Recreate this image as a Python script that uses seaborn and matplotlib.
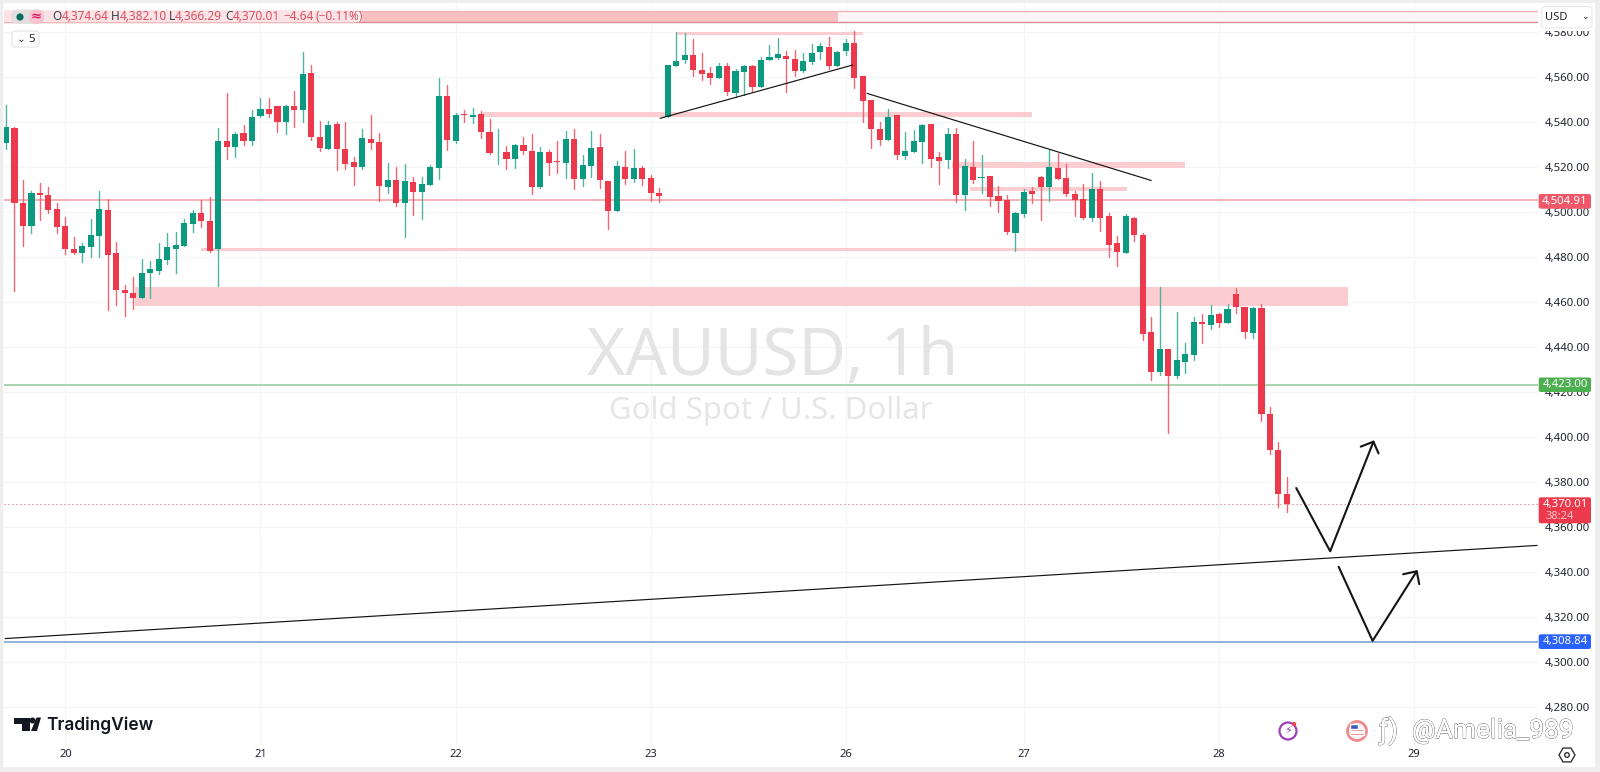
import numpy as np
import pandas as pd
import matplotlib
matplotlib.use("Agg")
import matplotlib.pyplot as plt
from matplotlib.patches import Rectangle, FancyBboxPatch, Circle, Polygon
import matplotlib.patheffects as pe
import seaborn as sns

highs = [4547.3,4537.7,4514.0,4509.3,4512.5,4511.0,4503.6,4497.7,4488.5,4485.9,
4496.5,4509.0,4505.4,4486.6,4467.3,4470.7,4479.0,4478.1,4485.9,4490.3,
4491.0,4496.8,4500.7,4505.1,4506.3,4537.0,4552.5,4535.5,4538.3,4545.1,
4550.3,4550.3,4546.9,4547.2,4553.4,4570.9,4565.0,4540.1,4540.1,4539.9,
4539.8,4524.1,4536.5,4542.9,4535.0,4521.4,4519.6,4521.0,4515.2,4515.2,
4520.5,4559.2,4556.2,4543.6,4545.1,4545.8,4544.8,4541.1,4536.5,4529.2,
4530.0,4533.0,4534.3,4528.8,4527.3,4531.3,4535.9,4536.7,4525.1,4535.9,
4534.4,4513.7,4522.3,4526.9,4527.6,4520.2,4516.2,4510.6,4565.2,4579.9,
4579.5,4576.5,4570.3,4564.4,4565.8,4565.8,4563.2,4565.0,4565.0,4568.8,
4573.8,4577.2,4571.5,4571.8,4570.6,4574.4,4574.7,4577.4,4571.2,4576.8,
4580.4,4560.2,4549.5,4539.8,4545.4,4543.0,4535.3,4536.2,4538.9,4538.7,
4526.4,4537.0,4537.0,4523.3,4531.3,4525.1,4515.6,4511.3,4507.3,4499.8,
4510.0,4510.7,4515.9,4527.3,4525.8,4521.1,4509.2,4512.2,4517.2,4513.7,
4499.2,4489.1,4498.7,4497.4,4490.3,4453.3,4466.3,4438.9,4455.2,4441.7,
4453.3,4454.4,4458.4,4454.7,4458.9,4465.9,4457.7,4457.7,4458.9,4413.0,
4397.7,4382.1]
lows = [4527.8,4464.8,4484.7,4490.3,4496.2,4499.2,4490.6,4481.1,4481.1,4477.7,
4479.9,4479.6,4456.2,4458.4,4453.6,4456.5,4461.7,4461.7,4472.2,4476.7,
4472.8,4484.7,4490.9,4493.3,4482.1,4466.9,4523.2,4524.4,4529.7,4529.7,
4542.1,4541.9,4535.2,4534.4,4537.7,4539.8,4531.8,4527.0,4527.6,4518.4,
4518.9,4511.9,4518.7,4527.9,4504.8,4508.1,4502.6,4488.8,4498.3,4496.8,
4511.9,4514.3,4527.3,4530.3,4539.9,4539.5,4532.7,4525.7,4521.1,4518.9,
4519.3,4525.5,4507.6,4510.4,4516.2,4517.2,4515.0,4510.1,4511.5,4515.5,
4510.3,4492.1,4500.2,4512.2,4513.2,4511.9,4504.5,4504.2,4541.8,4564.8,
4566.1,4560.2,4558.4,4556.7,4559.3,4551.9,4550.7,4551.9,4553.4,4555.3,
4567.2,4567.9,4553.2,4560.2,4562.1,4565.5,4567.9,4563.3,4564.8,4569.5,
4554.9,4539.8,4528.2,4529.7,4531.8,4523.5,4523.2,4526.6,4521.4,4519.9,
4512.2,4519.5,4504.2,4500.6,4512.8,4508.1,4502.6,4499.8,4490.0,4482.6,
4497.4,4503.6,4496.2,4504.5,4514.3,4507.0,4498.0,4496.6,4495.9,4491.5,
4479.8,4475.8,4481.5,4486.9,4442.9,4425.1,4427.5,4401.7,4425.9,4428.1,
4434.0,4441.4,4447.6,4448.8,4450.3,4455.0,4443.6,4443.8,4407.0,4392.2,
4368.5,4366.3]
opens = [4530.6,4537.1,4503.6,4493.6,4508.4,4507.5,4501.3,4493.6,4483.3,4481.6,
4484.2,4489.3,4500.5,4481.4,4465.1,4463.8,4461.7,4472.5,4473.4,4478.4,
4483.3,4484.7,4494.4,4499.2,4495.9,4483.5,4531.2,4528.8,4534.7,4531.3,
4542.3,4545.7,4546.9,4539.9,4546.9,4545.1,4561.6,4533.3,4527.8,4538.7,
4527.8,4522.0,4519.6,4532.1,4530.9,4510.7,4514.1,4503.8,4513.0,4508.7,
4511.9,4519.5,4551.2,4531.5,4543.3,4542.0,4543.3,4535.5,4526.3,4526.6,
4523.3,4529.7,4526.9,4510.9,4526.6,4522.4,4521.5,4532.1,4514.6,4520.2,
4528.5,4513.7,4500.2,4519.9,4514.6,4519.2,4514.9,4508.4,4542.1,4564.8,
4567.2,4569.4,4562.9,4561.7,4559.3,4564.8,4552.7,4562.1,4564.8,4555.3,
4567.2,4568.2,4569.1,4567.9,4562.4,4566.3,4570.7,4573.2,4564.8,4571.3,
4574.9,4560.1,4549.5,4536.7,4531.8,4542.7,4524.5,4526.6,4530.9,4538.7,
4524.1,4522.9,4534.4,4507.3,4519.9,4514.9,4515.6,4507.0,4505.1,4490.6,
4499.0,4509.1,4515.3,4510.7,4519.2,4514.9,4507.8,4505.4,4497.1,4510.1,
4497.8,4486.0,4481.5,4497.2,4489.7,4446.4,4428.7,4438.9,4426.9,4433.1,
4436.2,4450.7,4449.6,4454.6,4450.3,4463.2,4457.7,4446.0,4457.3,4410.1,
4394.1,4374.64]
closes = [4537.7,4503.9,4493.6,4508.1,4507.2,4500.7,4493.3,4483.2,4481.4,4484.5,
4489.6,4501.0,4480.8,4465.3,4463.6,4461.7,4472.8,4474.3,4478.7,4484.2,
4485.0,4494.7,4499.3,4495.9,4482.6,4531.3,4528.7,4534.4,4531.2,4542.1,
4545.7,4543.3,4539.6,4546.9,4545.1,4561.0,4533.0,4528.2,4538.3,4527.8,
4521.1,4519.6,4532.5,4530.6,4511.5,4514.1,4503.8,4513.4,4508.8,4512.2,
4519.8,4551.5,4531.9,4543.0,4542.9,4542.7,4535.3,4526.1,4526.6,4523.3,
4529.7,4526.7,4510.9,4526.6,4521.7,4522.1,4532.1,4514.6,4520.7,4528.2,
4513.8,4500.2,4520.4,4514.6,4519.2,4514.6,4508.1,4506.9,4565.2,4567.0,
4569.4,4562.9,4561.0,4559.3,4564.8,4553.0,4562.4,4564.7,4555.5,4567.5,
4568.7,4570.0,4567.6,4562.4,4566.7,4570.6,4573.7,4564.8,4571.0,4574.9,
4559.3,4549.2,4536.8,4531.8,4542.1,4525.1,4526.9,4531.2,4538.4,4523.5,
4522.4,4534.4,4507.3,4520.3,4513.8,4515.2,4506.4,4504.6,4490.9,4499.3,
4508.6,4507.8,4510.7,4519.6,4514.6,4507.8,4505.2,4497.1,4510.1,4497.1,
4485.1,4482.0,4497.8,4489.7,4445.7,4428.7,4438.9,4426.9,4434.0,4436.7,
4451.0,4450.1,4454.1,4450.3,4456.5,4457.4,4446.4,4457.3,4410.0,4394.0,
4374.4,4370.01]

day_positions = [7, 30, 53, 76, 99, 120, 143, 166]
day_labels = ["20", "21", "22", "23", "26", "27", "28", "29"]
price_ticks = list(range(4280, 4581, 20))

zone_start = [15.2, 23.0, 56.2, 79.0, 111.5, 113.6]
zone_end = [158.2, 130.4, 121.0, 101.0, 139.0, 132.2]
zone_high = [4466.6, 4484.0, 4544.1, 4579.8, 4522.0, 4511.0]
zone_low = [4458.0, 4482.4, 4542.0, 4578.4, 4519.5, 4509.0]

support_x = [-0.1, 180.5]
support_y = [4310.2, 4351.6]
rising_x = [77.1, 99.8]
rising_y = [4541.4, 4565.1]
falling_x = [101.5, 135.0]
falling_y = [4552.5, 4513.8]
arrow1_x = [152.1, 156.1, 161.2]
arrow1_y = [4377.1, 4349.0, 4397.7]
arrow1_head_x = [159.7, 161.2, 161.8]
arrow1_head_y = [4395.5, 4397.7, 4392.5]
arrow2_x = [157.1, 161.1, 166.3]
arrow2_y = [4342.1, 4309.2, 4340.1]
arrow2_head_x = [164.7, 166.3, 166.6]
arrow2_head_y = [4338.8, 4340.1, 4334.4]

level_red = 4504.91
level_green = 4423.00
level_blue = 4308.84
last_price = 4370.01

GREEN = "#0b9a80"
RED = "#ec3a4c"

sns.set_theme(style="white")
plt.rcParams["font.family"] = ["Noto Sans", "DejaVu Sans"]

W, H = 1600, 772
fig = plt.figure(figsize=(W / 100, H / 100), dpi=100, facecolor="white")


def fx(x):
    return x / W


def fy(y):
    return 1 - y / H


ax = fig.add_axes([fx(3.5), fy(745), (1537.5 - 3.5) / W, (745 - 3) / H])
ax.set_xlim(-0.295, 180.54)
ax.set_ylim(4262.9, 4592.67)
ax.set_facecolor("white")
ax.set_axisbelow(True)
ax.grid(True, color="#f4f5f7", lw=1)
for s in ax.spines.values():
    s.set_visible(False)
ax.set_xticks(day_positions)
ax.set_xticklabels(day_labels)
ax.set_yticks(price_ticks)
ax.set_yticklabels([f"{p:,.2f}" for p in price_ticks])
ax.yaxis.tick_right()
ax.tick_params(axis="x", length=0, pad=3, labelsize=8, labelcolor="#1f2430")
ax.tick_params(axis="y", length=0, pad=5.5, labelsize=8.2, labelcolor="#1f2430")

# header bands
xr = ax.get_xlim()[1]
ax.add_patch(Rectangle((42.0, 4584.1), 98.1 - 42.0, 5.1, fc="#f9c0c4", ec="none", zorder=1))
ax.add_patch(Rectangle((98.1, 4584.1), xr - 98.1, 5.1, fc="#fff5f6", ec="none", zorder=1))
ax.axhline(4589.2, color="#f5b3b8", lw=1.0, zorder=1.5)
ax.axhline(4584.1, color="#d98c92", lw=1.0, zorder=1.5)

# zones
for a, b, hi, lo in zip(zone_start, zone_end, zone_high, zone_low):
    ax.add_patch(Rectangle((a, lo), b - a, hi - lo, fc="#fccdd0", ec="none", zorder=1))

# levels
ax.axhline(level_red, color="#f5aab0", lw=1.3, zorder=1.6)
ax.axhline(level_green, color="#a5d0a8", lw=1.3, zorder=1.6)
ax.axhline(level_blue, color="#8aaad8", lw=1.3, zorder=1.6)
ax.axhline(last_price, color="#d9707a", lw=0.8, ls=(0, (1, 2.6)), zorder=1.6)

# candles
df = pd.DataFrame({"i": np.arange(len(opens)), "open": opens, "high": highs, "low": lows, "close": closes})
df["dir"] = np.where(df["close"] >= df["open"], "up", "down")
wicks = pd.concat([
    df[["i", "dir"]].assign(price=df["high"], x=df["i"]),
    df[["i", "dir"]].assign(price=df["low"], x=df["i"]),
])
sns.lineplot(data=wicks, x="x", y="price", hue="dir", units="i", estimator=None,
             palette={"up": "#4fb3a2", "down": "#ef6673"}, lw=1.0, legend=False,
             ax=ax, zorder=3)
ax.bar(df["i"], (df["close"] - df["open"]).abs(), bottom=df[["open", "close"]].min(axis=1),
       width=0.72, color=[GREEN if d == "up" else RED for d in df["dir"]], lw=0, zorder=4)

# drawings
for xs, ys, lw in [
    (support_x, support_y, 0.85), (rising_x, rising_y, 0.85), (falling_x, falling_y, 0.85),
    (arrow1_x, arrow1_y, 1.5), (arrow1_head_x, arrow1_head_y, 1.5),
    (arrow2_x, arrow2_y, 1.5), (arrow2_head_x, arrow2_head_y, 1.5),
]:
    sns.lineplot(x=xs, y=ys, sort=False, estimator=None, color="#141414", lw=lw, ax=ax, zorder=5)
ax.set_xlabel("")
ax.set_ylabel("")
ax.set_xlim(-0.295, 180.54)
ax.set_ylim(4262.9, 4592.67)

# watermark
fig.text(fx(587), fy(375), "XAUUSD, 1h", fontsize=47, color="#e4e4e4", ha="left", va="baseline", zorder=0.5,
         family="Noto Sans")
fig.text(fx(609), fy(419), "Gold Spot / U.S. Dollar", fontsize=22.4, color="#e6e6e6", ha="left", va="baseline",
         zorder=0.5, family="Noto Sans")
ax.patch.set_alpha(0)

T = matplotlib.transforms.Affine2D()


def box(x0, y0, x1, y1, fc, ec="none", r=2, z=6, lw=0.8):
    p = FancyBboxPatch((x0, H - y1), x1 - x0, y1 - y0, boxstyle=f"round,pad=0,rounding_size={r}",
                       fc=fc, ec=ec, lw=lw, zorder=z)
    p.set_transform(T)
    fig.add_artist(p)
    return p


def label(x, y, s, color="#1f2430", size=8, ha="left", va="center", weight="normal", z=7, **kw):
    return fig.text(fx(x), fy(y), s, color=color, fontsize=size, ha=ha, va=va, fontweight=weight, zorder=z, **kw)


# borders
for r in [(0, 0, 3.3, H), (0, 0, W, 3), (1595, 0, W, H), (0, 767, W, H)]:
    box(r[0], r[1], r[2], r[3], "#eeeeee", r=0, z=8)

# legend
box(4, 10.5, 356, 22.5, "#fde3e5", r=0, z=6)
box(11, 9.5, 44, 24, "#e4dfdf", r=7, z=6.1)
box(29, 9.5, 44, 24, "#f9c4cf", r=7, z=6.2)
fig.add_artist(Circle((20, H - 17), 3.6, fc="#0b6b5c", ec="none", transform=T, zorder=7))
label(36.5, 16.5, "≈", color="#d81b60", size=9.5, ha="center", weight="bold")
LEG_RED = "#d9505e"
for x, s, c in [(52.7, "O", "#3a3f4b"), (62, "4,374.64", LEG_RED), (111, "H", "#3a3f4b"), (119.3, "4,382.10", LEG_RED),
                (169, "L", "#3a3f4b"), (175, "4,366.29", LEG_RED), (225, "C", "#3a3f4b"), (232.3, "4,370.01", LEG_RED),
                (283, "−4.64", LEG_RED), (315, "(−0.11%)", LEG_RED)]:
    label(x, 17, s, color=c, size=8.5)
box(12, 31, 39, 47, "white", ec="#e4e4e6", r=3)
label(21, 39, "⌄", color="#333333", size=7.5, ha="center", va="center")
label(31.5, 39, "5", color="#1f2430", size=8.2, ha="center")

# USD box
box(1538, 3, 1595, 31, "white", r=0, z=6)
box(1541.7, 6.7, 1592, 28, "white", ec="#e8e8ea", r=3, z=6.1)
label(1545, 17.5, "USD", size=8)
label(1585, 16.5, "⌄", size=6.5, ha="center")

# price tags
for y0, y1, col, s in [(194, 208.7, "#f0586a", "4,504.91"), (377.5, 392, "#4caf50", "4,423.00"),
                       (634.3, 649, "#2962ff", "4,308.84")]:
    box(1538.7, y0, 1591, y1, col)
    label(1565, (y0 + y1) / 2, s, color="white", size=8.2, ha="center", weight="medium")
box(1538.7, 497.3, 1591, 523.3, RED)
label(1565, 504.5, "4,370.01", color="white", size=8.2, ha="center", weight="medium")
label(1545.5, 516.5, "38:24", color="#ffc4c9", size=8)

# TradingView logo
fig.add_artist(Polygon([(14, H - 717.5), (29.5, H - 717.5), (29.5, H - 731), (21.5, H - 731), (21.5, H - 723.5),
                        (14, H - 723.5)], fc="#131722", ec="none", transform=T, zorder=7))
fig.add_artist(Circle((32.5, H - 720.5), 3, fc="#131722", ec="none", transform=T, zorder=7))
fig.add_artist(Polygon([(31, H - 731), (37, H - 731), (41, H - 717.5), (36.5, H - 717.5)], fc="#131722", ec="none",
                       transform=T, zorder=7))
label(46.5, 730, "TradingView", color="#131722", size=12.5, va="baseline", weight="semibold", family="Inter")

# corner icons
fig.add_artist(Circle((1288, H - 731), 8.5, fc="white", ec="#9c3fb8", lw=1.6, transform=T, zorder=7))
fig.add_artist(Circle((1294, H - 724), 2.2, fc="#e5484d", ec="none", transform=T, zorder=7.5))
label(1288, 731, "⚡", color="#9c3fb8", size=8, ha="center", family="DejaVu Sans")
fig.add_artist(Circle((1357, H - 731), 9.5, fc="#f2f4fb", ec="#ee8a8a", lw=2, transform=T, zorder=7))
fig.add_artist(Rectangle((1350, H - 735), 14, 2.5, fc="#e5484d", transform=T, zorder=7.2))
fig.add_artist(Rectangle((1350, H - 731), 14, 2.5, fc="#e5484d", transform=T, zorder=7.2))
fig.add_artist(Rectangle((1350, H - 729), 8, 5, fc="#3b5bbf", transform=T, zorder=7.3))
fig.add_artist(Polygon([(1567 + 8 * np.cos(a), H - 755 + 8 * np.sin(a)) for a in np.radians(np.arange(0, 360, 60))],
                       fc="white", ec="#333333", lw=1, transform=T, zorder=7))
fig.add_artist(Circle((1567, H - 755), 2.3, fc="white", ec="#333333", lw=1, transform=T, zorder=7.2))

# credit
stroke = [pe.withStroke(linewidth=0.7, foreground="#555555"), pe.Normal()]
label(1412, 731, "@Amelia_989", color="white", size=19, va="center", z=9, path_effects=stroke, family="Roboto")
label(1379, 731, "ƒ)", color="white", size=20, va="center", z=9, path_effects=stroke, family="Roboto")

fig.savefig("out.png", dpi=100, facecolor="white")
